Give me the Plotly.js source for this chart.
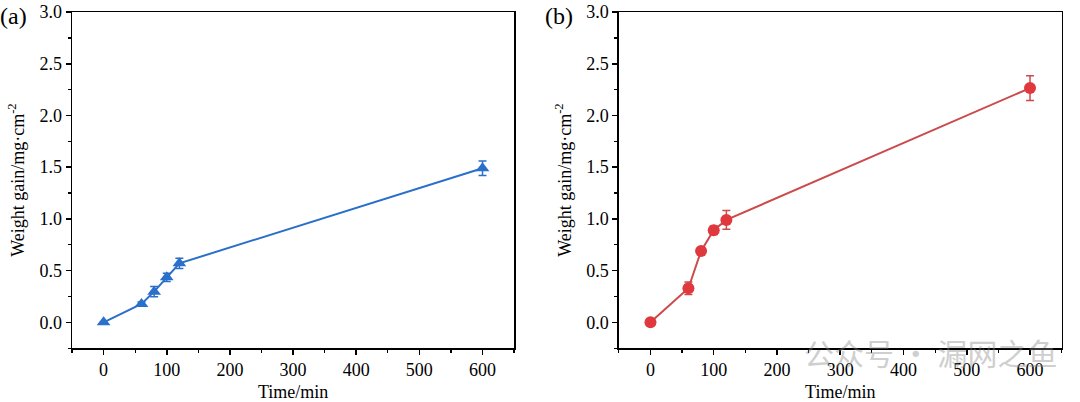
<!DOCTYPE html>
<html>
<head>
<meta charset="utf-8">
<script src="https://cdn.plot.ly/plotly-3.0.1.min.js"></script>
<style>html,body{margin:0;padding:0;background:#fff;}#chart{width:1080px;height:402px;}</style>
</head>
<body>
<div id="chart"></div>
<script>
const timeA = [0, 60, 80, 100, 120, 600];
const gainA = [0, 0.177, 0.296, 0.435, 0.57, 1.489];
const errA = [0, 0.02, 0.05, 0.04, 0.05, 0.07];

const timeB = [0, 60, 80, 100, 120, 600];
const gainB = [0, 0.329, 0.69, 0.89, 0.99, 2.265];
const errB = [0, 0.06, 0.02, 0.04, 0.09, 0.12];

const xTicks = [0, 100, 200, 300, 400, 500, 600];
const yTicks = [0, 0.5, 1.0, 1.5, 2.0, 2.5, 3.0];
const panelLabels = ['(a)', '(b)'];
const xTitle = 'Time/min';
const yTitle = 'Weight gain/mg·cm<sup>-2</sup>';
const watermark = '公众号 · 漏网之鱼';

const blue = '#2a6fc9';
const red = '#e0393d';
const redLine = '#cc4a4c';

const traces = [
  {x: timeA, y: gainA, type: 'scatter', mode: 'lines+markers', xaxis: 'x', yaxis: 'y',
   line: {color: blue, width: 2}, marker: {symbol: 'triangle-up', size: 12, color: blue},
   error_y: {type: 'data', array: errA, visible: true, color: blue, thickness: 1.5, width: 4}},
  {x: timeB, y: gainB, type: 'scatter', mode: 'lines+markers', xaxis: 'x2', yaxis: 'y2',
   line: {color: redLine, width: 2}, marker: {symbol: 'circle', size: 12, color: red},
   error_y: {type: 'data', array: errB, visible: true, color: redLine, thickness: 1.5, width: 4}}
];

const font = {family: 'Liberation Serif, Times New Roman, serif', size: 18, color: '#000'};
function xa(domain, anchor) {
  return {domain: domain, anchor: anchor, range: [-50, 650], tickvals: xTicks,
    ticks: 'outside', ticklen: 5, tickwidth: 1.5, tickcolor: '#000',
    minor: {dtick: 50, tick0: 0, ticks: 'outside', ticklen: 3, tickwidth: 1.2, tickcolor: '#000'},
    showline: true, linecolor: '#000', linewidth: 1.5, mirror: true,
    showgrid: false, zeroline: false, tickfont: font,
    title: {text: xTitle, font: font, standoff: 15}};
}
function ya(domain, anchor) {
  return {domain: domain, anchor: anchor, range: [-0.25, 3.0], tickvals: yTicks, tickformat: '.1f',
    ticks: 'outside', ticklen: 5, tickwidth: 1.5, tickcolor: '#000',
    minor: {dtick: 0.25, tick0: 0, ticks: 'outside', ticklen: 3, tickwidth: 1.2, tickcolor: '#000'},
    showline: true, linecolor: '#000', linewidth: 1.5, mirror: true,
    showgrid: false, zeroline: false, tickfont: font,
    title: {text: yTitle, font: font, standoff: 10}};
}

const layout = {
  width: 1080, height: 402,
  margin: {l: 0, r: 0, t: 0, b: 0},
  paper_bgcolor: '#fff', plot_bgcolor: '#fff',
  showlegend: false,
  xaxis: xa([0.0667, 0.476], 'y'),
  yaxis: ya([0.134, 0.970], 'x'),
  xaxis2: xa([0.573, 0.983], 'y2'),
  yaxis2: ya([0.134, 0.970], 'x2'),
  annotations: [
    {text: panelLabels[0], xref: 'paper', yref: 'paper', x: -0.002, y: 0.998, xanchor: 'left', yanchor: 'top',
     showarrow: false, font: {family: font.family, size: 24, color: '#000'}},
    {text: panelLabels[1], xref: 'paper', yref: 'paper', x: 0.503, y: 0.998, xanchor: 'left', yanchor: 'top',
     showarrow: false, font: {family: font.family, size: 24, color: '#000'}},
    {text: watermark, xref: 'paper', yref: 'paper', x: 0.862, y: 0.125, xanchor: 'center', yanchor: 'middle',
     showarrow: false, opacity: 0.4, font: {family: 'Noto Sans CJK SC, sans-serif', size: 30, color: '#888'}}
  ]
};

Plotly.newPlot('chart', traces, layout, {displayModeBar: false, staticPlot: true});
</script>
</body>
</html>
